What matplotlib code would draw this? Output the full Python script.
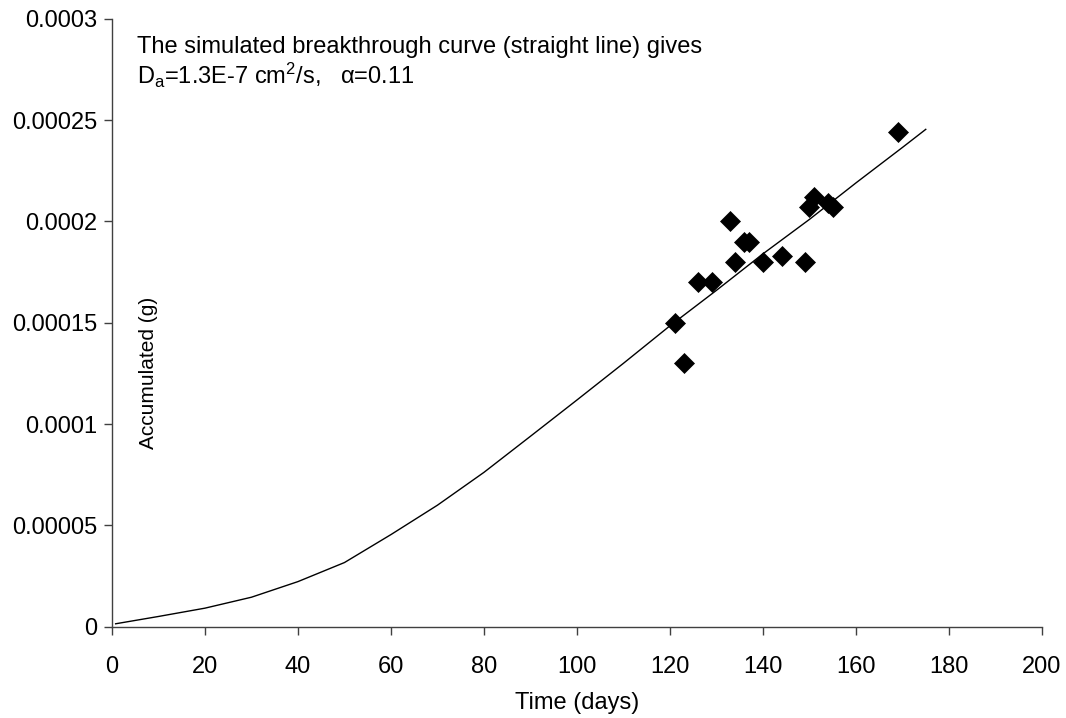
import numpy as np
import matplotlib
matplotlib.use('Agg')
import matplotlib.pyplot as plt

# ------------------------------------------------------
# DATA
# ------------------------------------------------------

# Measured accumulated mass (diamonds)
days_meas = [121, 123, 126, 129, 133, 134, 136, 137, 140, 144, 149, 150, 151, 154, 155, 169]
acc_meas = [0.000150, 0.000130, 0.000170, 0.000170, 0.000200, 0.000180, 0.000190, 0.000190,
            0.000180, 0.000183, 0.000180, 0.000207, 0.000212, 0.000209, 0.000207, 0.000244]

# Simulated breakthrough curve (line)
days_sim = [0.8, 10, 20, 30, 40, 50, 60, 70, 80, 90, 100, 110, 120, 130, 140, 150, 160, 170, 175]
acc_sim = [0.0000015, 0.0000051, 0.0000092, 0.0000146, 0.0000223, 0.0000317, 0.0000455,
           0.0000600, 0.0000762, 0.0000940, 0.0001119, 0.0001300, 0.0001485, 0.0001660,
           0.0001840, 0.0002010, 0.0002190, 0.0002365, 0.0002454]

x_ticks = [0, 20, 40, 60, 80, 100, 120, 140, 160, 180, 200]
y_ticks = [0, 0.00005, 0.0001, 0.00015, 0.0002, 0.00025, 0.0003]
y_ticklabels = ['0', '0.00005', '0.0001', '0.00015', '0.0002', '0.00025', '0.0003']

# ------------------------------------------------------
# STYLE
# ------------------------------------------------------

plt.rcParams['font.family'] = ['Liberation Sans', 'DejaVu Sans']
plt.rcParams['font.size'] = 17
plt.rcParams['mathtext.fontset'] = 'custom'
plt.rcParams['mathtext.rm'] = 'Liberation Sans'
plt.rcParams['mathtext.it'] = 'Liberation Sans:italic'
plt.rcParams['mathtext.default'] = 'regular'

# ------------------------------------------------------
# PLOT
# ------------------------------------------------------

fig = plt.figure(figsize=(10.66, 7.18), dpi=100)
ax1 = fig.add_axes([0.105, 0.127, 0.8725, 0.847])

ax1.plot(days_sim, acc_sim, '-', color='k', linewidth=1.0)
ax1.plot(days_meas, acc_meas, 'D', color='k', markersize=10,
         markeredgecolor='k', markeredgewidth=0.5, linestyle='none')

ax1.set_xlim(0, 200)
ax1.set_ylim(0, 0.0003)
ax1.set_xticks(x_ticks)
ax1.set_yticks(y_ticks)
ax1.set_yticklabels(y_ticklabels)

for side in ['top', 'right']:
    ax1.spines[side].set_visible(False)
for side in ['left', 'bottom']:
    ax1.spines[side].set_color('#404040')
    ax1.spines[side].set_linewidth(1.0)

ax1.tick_params(axis='both', direction='out', length=6, width=1, color='#404040',
                labelsize=17)
ax1.tick_params(axis='y', pad=4.5)
ax1.tick_params(axis='x', pad=15)

ax1.set_xlabel('Time (days)', fontsize=17, labelpad=10)

# y label sits inside the plot area
ax1.text(0.039, 0.417, 'Accumulated (g)', transform=ax1.transAxes, rotation=90,
         ha='center', va='center', fontsize=15)

# annotation
ax1.text(0.027, 0.944, 'The simulated breakthrough curve (straight line) gives',
         transform=ax1.transAxes, ha='left', va='baseline', fontsize=17)
ax1.text(0.027, 0.893, r'D$_{a}$=1.3E-7 cm$^{2}$/s,   $\alpha$=0.11',
         transform=ax1.transAxes, ha='left', va='baseline', fontsize=17)

fig.savefig('out.png', dpi=100)
plt.close('all')
